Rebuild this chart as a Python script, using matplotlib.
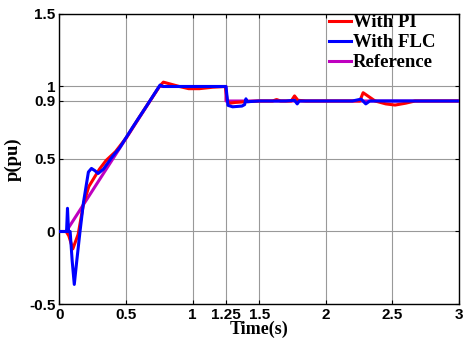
import matplotlib
matplotlib.use("Agg")
import matplotlib.pyplot as plt

# Reference power profile
t_ref = [0, 0.05, 0.75, 1.25, 1.25, 3.0]
p_ref = [0, 0, 1.0, 1.0, 0.9, 0.9]

# Response with PI controller
t_pi = [0, 0.05, 0.07, 0.10, 0.14, 0.18, 0.22, 0.26, 0.30, 0.35, 0.42, 0.50,
        0.60, 0.70, 0.75, 0.78, 0.82, 0.90, 0.97, 1.05, 1.15, 1.245, 1.26,
        1.28, 1.32, 1.40, 1.50, 1.60, 1.63, 1.66, 1.74, 1.765, 1.79, 1.85,
        2.0, 2.2, 2.255, 2.28, 2.37, 2.45, 2.52, 2.6, 2.67, 2.8, 3.0]
p_pi = [0, 0, -0.03, -0.12, -0.02, 0.19, 0.31, 0.37, 0.43, 0.49, 0.55, 0.645,
        0.79, 0.93, 1.0, 1.03, 1.02, 1.0, 0.985, 0.985, 0.995, 1.0, 0.9,
        0.885, 0.89, 0.895, 0.9, 0.9, 0.91, 0.9, 0.9, 0.935, 0.905, 0.9,
        0.9, 0.9, 0.9, 0.957, 0.9, 0.88, 0.872, 0.885, 0.9, 0.9, 0.9]

# Response with fuzzy logic controller
t_flc = [0, 0.053, 0.06, 0.068, 0.08, 0.095, 0.111, 0.13, 0.154, 0.18, 0.217,
         0.24, 0.265, 0.29, 0.33, 0.40, 0.45, 0.55, 0.65, 0.755, 0.78, 0.85,
         1.0, 1.15, 1.25, 1.265, 1.30, 1.37, 1.39, 1.40, 1.41, 1.5, 1.7,
         1.765, 1.785, 1.80, 1.85, 2.0, 2.2, 2.265, 2.30, 2.33, 2.5, 3.0]
p_flc = [0, 0, 0.16, 0.0, 0.0, -0.2, -0.365, -0.2, 0.0, 0.2, 0.41,
         0.435, 0.42, 0.40, 0.43, 0.52, 0.575, 0.72, 0.86, 1.01, 1.0, 1.0,
         1.0, 1.0, 1.0, 0.87, 0.86, 0.865, 0.875, 0.915, 0.895, 0.9, 0.9,
         0.905, 0.88, 0.9, 0.9, 0.9, 0.9, 0.913, 0.88, 0.9, 0.9, 0.9]

x_ticks = [0, 0.5, 1, 1.25, 1.5, 2, 2.5, 3]
x_labels = ["0", "0.5", "1", "1.25", "1.5", "2", "2.5", "3"]
y_ticks = [-0.5, 0, 0.5, 0.9, 1, 1.5]
y_labels = ["-0.5", "0", "0.5", "0.9", "1", "1.5"]

fig = plt.figure(figsize=(4.63, 3.43), dpi=100)
ax = fig.add_axes([0.1285, 0.1137, 0.8629, 0.8455])

ax.plot(t_ref, p_ref, color="#BF00BF", lw=2.2, label="Reference", zorder=3)
ax.plot(t_pi, p_pi, color="red", lw=2.2, label="With PI", zorder=4)
ax.plot(t_flc, p_flc, color="blue", lw=2.2, label="With FLC", zorder=5)

ax.set_xlim(0, 3)
ax.set_ylim(-0.5, 1.5)
ax.set_xticks(x_ticks)
ax.set_xticklabels(x_labels)
ax.set_yticks(y_ticks)
ax.set_yticklabels(y_labels)
ax.grid(True, color="#999999", lw=0.8)
ax.tick_params(direction="in", top=True, right=True, length=3, pad=3)
for lab in ax.get_xticklabels() + ax.get_yticklabels():
    lab.set_fontfamily("Liberation Sans")
    lab.set_fontweight("bold")
    lab.set_fontsize(11)
for sp in ax.spines.values():
    sp.set_linewidth(1.0)

ax.set_xlabel("Time(s)", family="Liberation Serif", weight="bold",
              fontsize=13, labelpad=-1)
ax.set_ylabel("p(pu)", family="Liberation Serif", weight="bold",
              fontsize=13.5, labelpad=5)

handles, labels = ax.get_legend_handles_labels()
order = [1, 2, 0]
leg = ax.legend([handles[i] for i in order], [labels[i] for i in order],
                loc="upper left", bbox_to_anchor=(0.655, 1.025), frameon=False,
                prop={"family": "Liberation Serif", "weight": "bold", "size": 13.5},
                handlelength=1.2, handletextpad=0.1, labelspacing=0.15,
                borderaxespad=0.0)

fig.savefig("out.png", dpi=100)
